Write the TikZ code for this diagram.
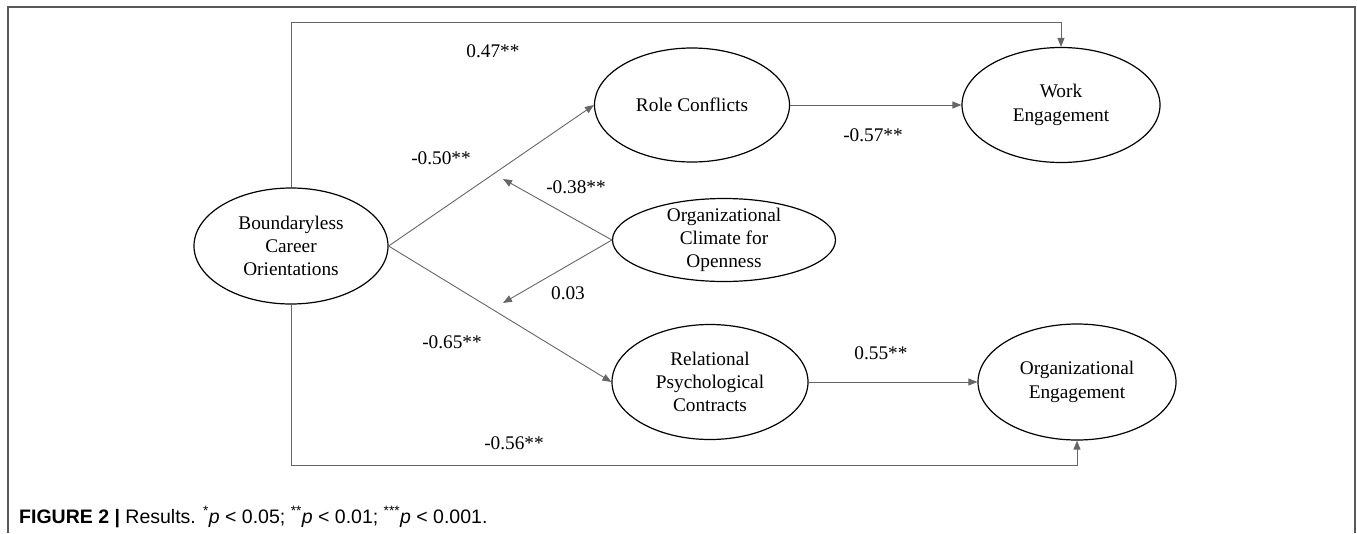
\documentclass[tikz,border=0pt]{standalone}
\usepackage{fontspec}
\setmainfont{Liberation Serif}
\newfontfamily\capfont{Liberation Sans}
\usetikzlibrary{shapes.geometric,arrows.meta}
\begin{document}
\begin{tikzpicture}[x=1pt,y=-1pt,
  var/.style={ellipse,draw=black,line width=1.2pt,inner sep=0pt},
  vtxt/.style={align=center,inner sep=0pt,font=\fontsize{19.3}{23.3}\selectfont},
  conn/.style={draw=black!60,line width=0.9pt,-{Triangle[length=9pt,width=7pt]}},
  lbl/.style={inner sep=0pt,font=\fontsize{19.3}{23.3}\selectfont},
  frame/.style={draw=black!65,line width=1.5pt}]
\useasboundingbox (0,0) rectangle (1357,533);
\draw[frame] (8,533) -- (8,7) -- (1355,7) -- (1355,533);

% variables
\node[var,minimum width=194pt,minimum height=116pt] (bco) at (291,246) {};
\node[vtxt] (bcot) at (bco) {Boundaryless\\Career\\Orientations};
\node[var,minimum width=195pt,minimum height=114pt] (rc) at (692,105) {};
\node[vtxt] (rct) at (rc) {Role Conflicts};
\node[var,minimum width=198pt,minimum height=115pt] (we) at (1061,105) {};
\node[vtxt] (wet) at (we) {Work\\Engagement};
\node[var,minimum width=223pt,minimum height=83pt] (oc) at (724,240) {};
\node[vtxt] (oct) at (oc) {Organizational\\Climate for\\Openness};
\node[var,minimum width=196pt,minimum height=115pt] (rpc) at (710,382) {};
\node[vtxt] (rpct) at (rpc) {Relational\\Psychological\\Contracts};
\node[var,minimum width=198pt,minimum height=116pt] (oe) at (1077,382) {};
\node[vtxt] (oet) at (oe) {Organizational\\Engagement};

% helper coordinates
\coordinate (topy) at (0,22);
\coordinate (boty) at (0,465);
\coordinate (m1) at (503,179);
\coordinate (m2) at (503,303);

% connectors
\draw[conn] (bco.north) |- (we.north |- topy) -- (we.north);
\draw[conn] (bco.south) |- (oe.south |- boty) -- (oe.south);
\draw[conn] (rc.east) -- (we.west);
\draw[conn] (rpc.east) -- (oe.west);
\draw[conn] (bco.east) -- (rc.west);
\draw[conn] (bco.east) -- (rpc.west);
\draw[conn] (oc.west) -- (m1);
\draw[conn] (oc.west) -- (m2);

% coefficients
\node[lbl] (l1) at (493,51) {0.47**};
\node[lbl] (l2) at (441,158) {-0.50**};
\node[lbl] (l3) at (576,187) {-0.38**};
\node[lbl] (l4) at (568,293) {0.03};
\node[lbl] (l5) at (452,342) {-0.65**};
\node[lbl] (l6) at (873,135) {-0.57**};
\node[lbl] (l7) at (881,353) {0.55**};
\node[lbl] (l8) at (514,443) {-0.56**};

% caption
\node[anchor=base west,inner sep=0pt,font=\capfont\fontsize{19.5}{22}\selectfont] (cap) at (19,523)
  {{\bfseries FIGURE 2 |} Results. \textsuperscript{*}{\itshape p} < 0.05; \textsuperscript{**}{\itshape p} < 0.01; \textsuperscript{***}{\itshape p} < 0.001.};
\end{tikzpicture}
\end{document}
